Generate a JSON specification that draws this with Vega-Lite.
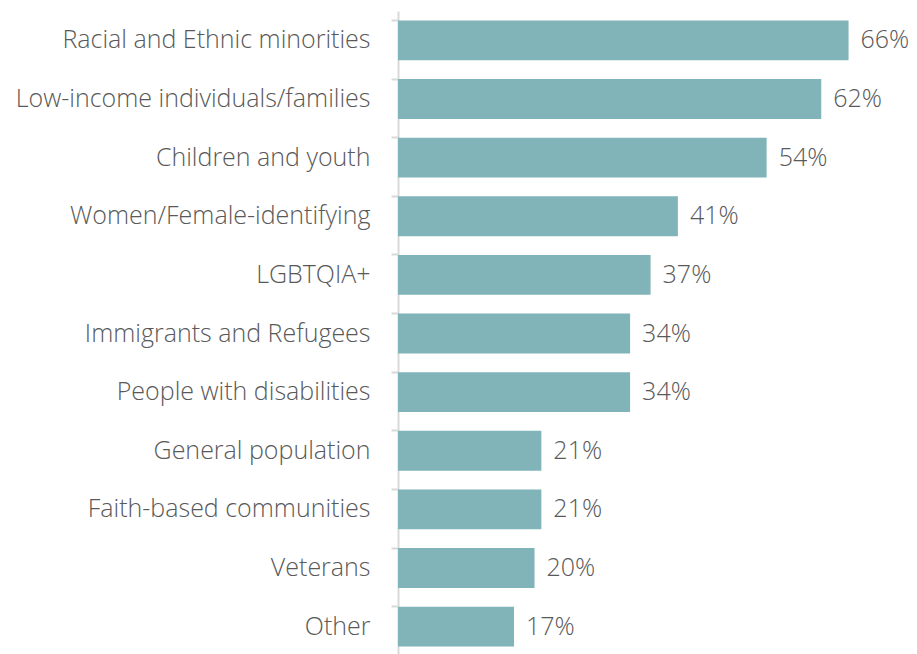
{
  "$schema": "https://vega.github.io/schema/vega-lite/v6.json",
  "autosize": "none",
  "padding": {"left": 398, "top": 11, "right": 7, "bottom": 0},
  "width": 512,
  "height": 645,
  "background": "white",
  "config": {"view": {"stroke": null}, "font": "Open Sans"},
  "data": {"values": [
    {"group": "Racial and Ethnic minorities", "pct": 0.66},
    {"group": "Low-income individuals/families", "pct": 0.62},
    {"group": "Children and youth", "pct": 0.54},
    {"group": "Women/Female-identifying", "pct": 0.41},
    {"group": "LGBTQIA+", "pct": 0.37},
    {"group": "Immigrants and Refugees", "pct": 0.34},
    {"group": "People with disabilities", "pct": 0.34},
    {"group": "General population", "pct": 0.21},
    {"group": "Faith-based communities", "pct": 0.21},
    {"group": "Veterans", "pct": 0.20},
    {"group": "Other", "pct": 0.17}
  ]},
  "encoding": {
    "y": {"field": "group", "type": "nominal", "sort": null,
      "scale": {"paddingInner": 0.32, "paddingOuter": 0.16},
      "axis": {"title": null, "domainColor": "#d9d9d9", "domainWidth": 2,
        "ticks": true, "tickColor": "#d9d9d9", "tickWidth": 2, "tickSize": 7, "bandPosition": 0,
        "labelFontSize": 25, "labelColor": "#595959", "labelPadding": 21, "labelLimit": 420, "labelFont": "Open Sans", "labelFontWeight": 300}},
    "x": {"field": "pct", "type": "quantitative", "scale": {"domain": [0, 0.75]}, "axis": null}
  },
  "layer": [
    {"mark": {"type": "bar", "color": "#80B4B8"}},
    {"mark": {"type": "text", "align": "left", "dx": 12, "fontSize": 25, "color": "#595959", "font": "Open Sans", "fontWeight": 300},
     "encoding": {"text": {"field": "pct", "type": "quantitative", "format": ".0%"}}}
  ]
}
